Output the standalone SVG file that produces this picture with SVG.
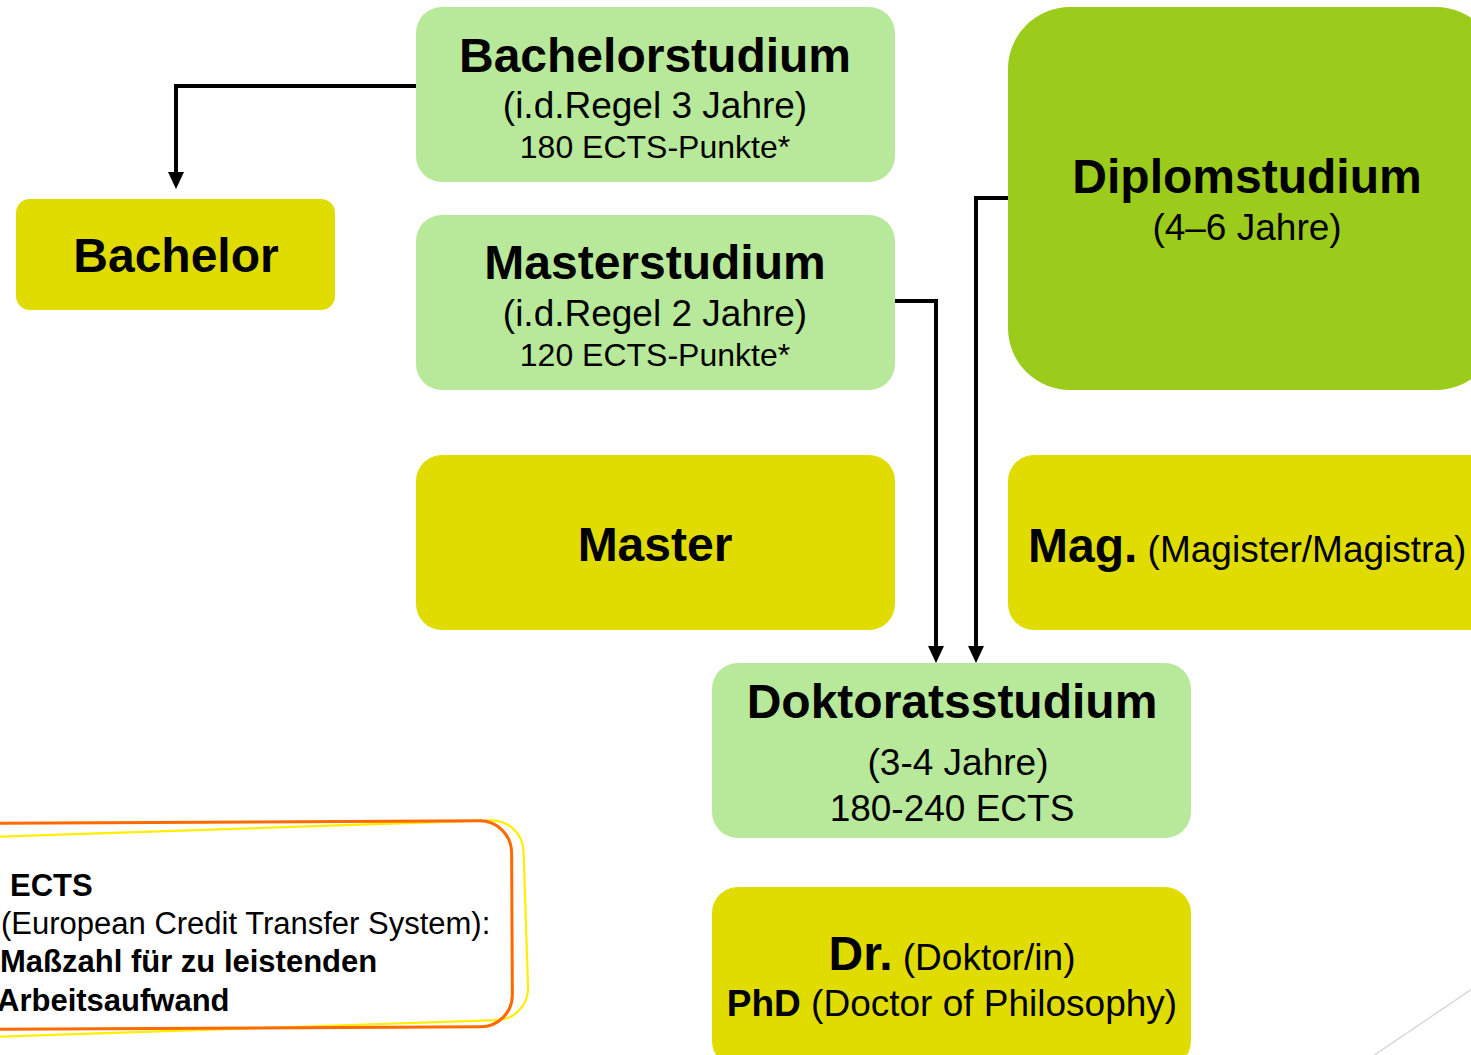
<svg xmlns="http://www.w3.org/2000/svg" width="1471" height="1055" viewBox="0 0 1471 1055">
<style>
text{font-family:"Liberation Sans",Arial,sans-serif;fill:#000}
.t{font-weight:bold;font-size:48px}
.s{font-size:37px}
.p{font-size:32px}
.e{font-size:31px}
.b{font-weight:bold}
.lg{fill:#b8e99a}
.yl{fill:#e0dc00}
.dg{fill:#9bcb1b}
.con{fill:none;stroke:#000;stroke-width:4}
.ah{fill:#000}
</style>
<rect width="1471" height="1055" fill="#fff"/>
<g id="connectors">
<path class="con" d="M416,86 H176 V172"/>
<path class="ah" d="M168,172 L184,172 L176,189 Z"/>
<path class="con" d="M895,301 H936 V646"/>
<path class="ah" d="M928,646 L944,646 L936,663 Z"/>
<path class="con" d="M1008,198 H976 V646"/>
<path class="ah" d="M968,646 L984,646 L976,663 Z"/>
</g>
<g id="bachelorstudium">
<rect class="lg" x="416" y="7" width="479" height="175" rx="26"/>
<text class="t" x="655" y="72" text-anchor="middle">Bachelorstudium</text>
<text class="s" x="655" y="118" text-anchor="middle">(i.d.Regel 3 Jahre)</text>
<text class="p" x="655" y="158" text-anchor="middle">180 ECTS-Punkte*</text>
</g>
<g id="bachelor">
<rect class="yl" x="16" y="199" width="319" height="111" rx="14"/>
<text class="t" x="176" y="272" text-anchor="middle">Bachelor</text>
</g>
<g id="masterstudium">
<rect class="lg" x="416" y="215" width="479" height="175" rx="26"/>
<text class="t" x="655" y="279" text-anchor="middle">Masterstudium</text>
<text class="s" x="655" y="326" text-anchor="middle">(i.d.Regel 2 Jahre)</text>
<text class="p" x="655" y="366" text-anchor="middle">120 ECTS-Punkte*</text>
</g>
<g id="master">
<rect class="yl" x="416" y="455" width="479" height="175" rx="26"/>
<text class="t" x="655" y="561" text-anchor="middle">Master</text>
</g>
<g id="diplomstudium">
<rect class="dg" x="1008" y="7" width="490" height="383" rx="62"/>
<text class="t" x="1247" y="193" text-anchor="middle">Diplomstudium</text>
<text class="s" x="1247" y="240" text-anchor="middle">(4–6 Jahre)</text>
</g>
<g id="mag">
<rect class="yl" x="1008" y="455" width="490" height="175" rx="26"/>
<text x="1028" y="562"><tspan class="t">Mag.</tspan><tspan class="s"> (Magister/Magistra)</tspan></text>
</g>
<g id="doktoratsstudium">
<rect class="lg" x="712" y="663" width="479" height="175" rx="26"/>
<text class="t" x="952" y="718" text-anchor="middle">Doktoratsstudium</text>
<text class="s" x="958" y="775" text-anchor="middle">(3-4 Jahre)</text>
<text class="s" x="952" y="821" text-anchor="middle">180-240 ECTS</text>
</g>
<g id="dr">
<rect class="yl" x="712" y="887" width="479" height="180" rx="26"/>
<text x="952" y="970" text-anchor="middle"><tspan class="t">Dr.</tspan><tspan class="s"> (Doktor/in)</tspan></text>
<text x="952" y="1016" text-anchor="middle" class="s"><tspan class="b">PhD</tspan> (Doctor of Philosophy)</text>
</g>
<g id="ects-note">
<rect x="-40" y="828" width="566" height="200" rx="32" fill="none" stroke="#ffee00" stroke-width="2.2" transform="rotate(-1.9 260 930)"/>
<rect x="-40" y="822" width="552" height="206" rx="32" fill="none" stroke="#ff6a00" stroke-width="3" transform="rotate(-0.3 260 925)"/>
<text class="e b" x="10" y="896">ECTS</text>
<text class="e" x="1" y="934">(European Credit Transfer System):</text>
<text class="e b" x="0" y="972">Maßzahl für zu leistenden</text>
<text class="e b" x="-3" y="1011">Arbeitsaufwand</text>
</g>
<line x1="1373" y1="1056" x2="1472" y2="989" stroke="#d9d9d9" stroke-width="1.5"/>
</svg>
